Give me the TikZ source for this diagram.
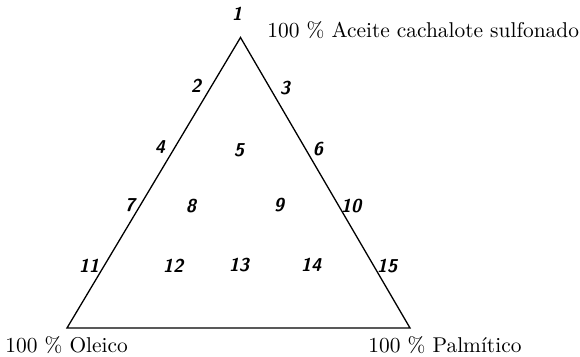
\documentclass[tikz,border=0pt]{standalone}
\begin{document}
\begin{tikzpicture}[x=0.5pt,y=-0.5pt,
  num/.style={font=\fontsize{9.3}{11}\sffamily\bfseries\slshape, inner sep=0pt},
  lab/.style={font=\fontsize{10.7}{12}\selectfont, inner sep=0pt, anchor=west},
  edge/.style={line width=0.65pt, line join=miter}]
\useasboundingbox (0,0) rectangle (580,357);
\coordinate (top) at (240.5,37.5);
\coordinate (left) at (67,328);
\coordinate (right) at (410,328);
\draw[edge] (top) -- (left) -- (right) -- cycle;
\node[num] (n1) at (237,14) {1};
\node[num] (n2) at (196,86) {2};
\node[num] (n3) at (285,88) {3};
\node[num] (n4) at (160,147) {4};
\node[num] (n5) at (239,150) {5};
\node[num] (n6) at (318,149) {6};
\node[num] (n7) at (130,205) {7};
\node[num] (n8) at (191,206) {8};
\node[num] (n9) at (279,205) {9};
\node[num] (n10) at (351,206) {10};
\node[num] (n11) at (89,266) {11};
\node[num] (n12) at (173,266) {12};
\node[num] (n13) at (239,265) {13};
\node[num] (n14) at (311,265) {14};
\node[num] (n15) at (387,266) {15};
\node[lab] (lt) at (267,30) {100 \% Aceite cachalote sulfonado};
\node[lab] (ll) at (5,345) {100 \% Oleico};
\node[lab] (lr) at (368,345) {100 \% Palm\'{\i}tico};
\end{tikzpicture}
\end{document}
